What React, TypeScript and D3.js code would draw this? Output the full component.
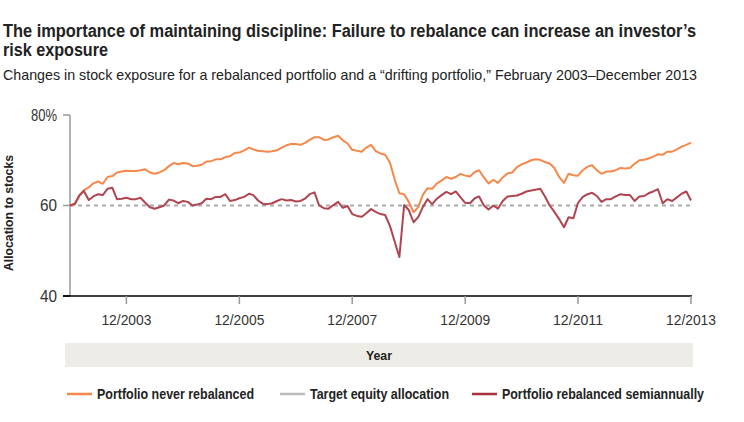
import * as d3 from "d3";

const W = 744;
const H = 422;
const FONT = "'Liberation Sans', Arial, sans-serif";

// monthly observations, 12/2002 .. 12/2013
const MONTHS = d3.timeMonth.range(new Date(2002, 11, 1), new Date(2014, 0, 1));

const NEVER_REBALANCED = [
  60, 60.2, 62.2, 63.4, 64.0, 64.9, 65.3, 64.8, 66.3, 66.5,
  67.3, 67.5, 67.7, 67.6, 67.6, 67.8, 68.0, 67.3, 67.0, 67.3,
  67.8, 68.7, 69.4, 69.1, 69.4, 69.3, 68.7, 68.8, 69.0, 69.7,
  69.8, 70.2, 70.2, 70.7, 70.9, 71.6, 71.7, 72.2, 72.8, 72.4,
  72.1, 72.0, 71.9, 72.0, 72.2, 72.8, 73.3, 73.6, 73.6, 73.4,
  73.9, 74.5, 75.1, 75.1, 74.5, 74.6, 75.1, 75.4, 74.4, 73.7,
  72.3, 72.1, 71.9, 72.8, 73.4, 72.0, 71.5, 71.2, 69.5, 65.7,
  62.7, 62.5, 60.8, 58.5, 59.7, 62.3, 63.8, 63.7, 64.9, 65.5,
  66.3, 65.9, 66.3, 67.0, 66.6, 66.4, 67.4, 67.8, 66.2, 64.9,
  65.7, 65.0, 66.2, 67.1, 67.3, 68.5, 69.1, 69.5, 70.0, 70.2,
  70.1, 69.6, 69.3, 68.3, 66.3, 65.0, 67.0, 66.7, 66.6, 67.8,
  68.6, 68.9, 67.8, 67.0, 67.5, 67.5, 67.8, 68.3, 68.2, 68.3,
  69.2, 70.0, 70.1, 70.4, 70.8, 71.3, 71.2, 71.9, 71.9, 72.4,
  73.0, 73.4, 73.9,
];

const SEMIANNUAL = [
  60, 60.4, 62.3, 63.2, 61.2, 62.0, 62.5, 62.3, 63.7, 63.9,
  61.4, 61.5, 61.7, 61.4, 61.4, 61.7, 60.6, 59.6, 59.3, 59.6,
  60.0, 61.3, 61.1, 60.5, 61.0, 60.8, 60.0, 60.2, 60.5, 61.5,
  61.4, 61.9, 61.9, 62.5, 61.0, 61.2, 61.6, 61.9, 62.6, 62.3,
  61.1, 60.4, 60.3, 60.5, 61.0, 61.4, 61.1, 61.2, 60.9, 61.0,
  61.6, 62.5, 62.9, 60.0, 59.4, 59.3, 60.1, 60.8, 59.5, 59.9,
  58.1, 57.7, 57.5, 58.3, 59.2, 58.6, 58.1, 57.9, 55.5, 52.0,
  48.6, 60.1, 59.0, 56.3, 57.5, 59.6, 61.4, 60.3, 61.5, 62.3,
  63.0, 62.5, 63.1, 61.8, 60.6, 60.5, 61.6, 62.0, 60.0, 59.1,
  60.0, 59.3, 61.0, 62.0, 62.1, 62.2, 62.6, 63.1, 63.3, 63.5,
  63.7, 62.0, 60.0, 58.6, 57.0, 55.2, 57.4, 57.2, 60.6, 61.9,
  62.5, 62.8, 62.1, 60.8, 61.4, 61.4, 62.0, 62.5, 62.3, 62.3,
  61.0, 62.0, 62.1, 62.7, 63.1, 63.6, 60.5, 61.4, 61.0, 61.8,
  62.6, 63.1, 61.1,
];

const TARGET = 60;
const Y_TICKS = [40, 60, 80];
const X_TICKS = [2003, 2005, 2007, 2009, 2011, 2013];

const ORANGE = "#f5884a";
const RED = "#b0444f";

// legend entries (label, colour, measured text width)
const LEGEND = [
  { label: "Portfolio never rebalanced", color: ORANGE, width: 157 },
  { label: "Target equity allocation", color: "#bcbcbc", width: 139 },
  { label: "Portfolio rebalanced semiannually", color: "#a8323e", width: 202 },
];

export default function App() {
  const x = d3
    .scaleTime()
    .domain([MONTHS[0], MONTHS[MONTHS.length - 1]])
    .range([70, 691]);
  const y = d3.scaleLinear().domain([40, 80]).range([296, 115]);

  const line = d3
    .line<number>()
    .x((_, i) => x(MONTHS[i]))
    .y((d) => y(d));

  const [x0, x1] = x.range();
  const legendX = [67, 280, 472];
  const squeeze = { lengthAdjust: "spacingAndGlyphs" } as any;

  return (
    <svg
      width={W}
      height={H}
      style={{ position: "absolute", left: 0, top: 0, background: "#fff" }}
      fontFamily={FONT}
    >
      {/* titles */}
      <text x={3} y={37} fontSize={17.5} fontWeight="bold" fill="#222" textLength={693} {...squeeze}>
        The importance of maintaining discipline: Failure to rebalance can increase an investor’s
      </text>
      <text x={3} y={56} fontSize={17.5} fontWeight="bold" fill="#222" textLength={105} {...squeeze}>
        risk exposure
      </text>
      <text x={3} y={80} fontSize={15} fill="#222" textLength={694} {...squeeze}>
        Changes in stock exposure for a rebalanced portfolio and a “drifting portfolio,” February 2003–December 2013
      </text>

      {/* y axis */}
      <line x1={x0} x2={x0} y1={y(80)} y2={y(40)} stroke="#999" strokeWidth={1.5} />
      {Y_TICKS.map((t) => (
        <g key={t}>
          <line x1={63} x2={x0} y1={y(t)} y2={y(t)} stroke={t === 40 ? "#000" : "#999"} strokeWidth={1.5} />
          <text
            x={57}
            y={y(t)}
            dy="0.36em"
            textAnchor="end"
            fontSize={16.5}
            fill="#333"
            textLength={t === 80 ? 26 : 17}
            {...squeeze}
          >
            {t === 80 ? "80%" : t}
          </text>
        </g>
      ))}
      <text
        transform={`translate(13, 213) rotate(-90)`}
        textAnchor="middle"
        fontSize={13.5}
        fontWeight="bold"
        fill="#222"
        textLength={116}
        {...squeeze}
      >
        Allocation to stocks
      </text>

      {/* target */}
      <line
        x1={x0}
        x2={x1}
        y1={y(TARGET)}
        y2={y(TARGET)}
        stroke="#aaa"
        strokeWidth={2}
        strokeDasharray="4,4"
      />

      {/* x axis */}
      <line x1={63} x2={x1 + 1} y1={y(40)} y2={y(40)} stroke="#000" strokeWidth={1.5} />
      {X_TICKS.map((yr) => {
        const tx = x(new Date(yr, 11, 1));
        return (
          <g key={yr}>
            <line x1={tx} x2={tx} y1={y(40)} y2={y(40) + 8} stroke="#999" strokeWidth={1.5} />
            <text
              x={tx}
              y={325}
              textAnchor="middle"
              fontSize={15}
              fill="#333"
              textLength={50}
              {...squeeze}
            >
              {`12/${yr}`}
            </text>
          </g>
        );
      })}

      <rect x={65} y={343} width={628} height={24} fill="#edece7" />
      <text
        x={379}
        y={355}
        dy="0.35em"
        textAnchor="middle"
        fontSize={13.5}
        fontWeight="bold"
        fill="#222"
        textLength={26}
        {...squeeze}
      >
        Year
      </text>

      {/* series */}
      <path d={line(NEVER_REBALANCED) ?? ""} fill="none" stroke={ORANGE} strokeWidth={2} strokeLinejoin="round" />
      <path d={line(SEMIANNUAL) ?? ""} fill="none" stroke={RED} strokeWidth={2} strokeLinejoin="round" />

      {/* legend */}
      {LEGEND.map((l, i) => (
        <g key={l.label} transform={`translate(${legendX[i]}, 394)`}>
          <line x1={0} x2={25} y1={0} y2={0} stroke={l.color} strokeWidth={2.5} />
          <text
            x={30}
            y={0}
            dy="0.35em"
            fontSize={14}
            fontWeight="bold"
            fill="#222"
            textLength={l.width}
            {...squeeze}
          >
            {l.label}
          </text>
        </g>
      ))}
    </svg>
  );
}
